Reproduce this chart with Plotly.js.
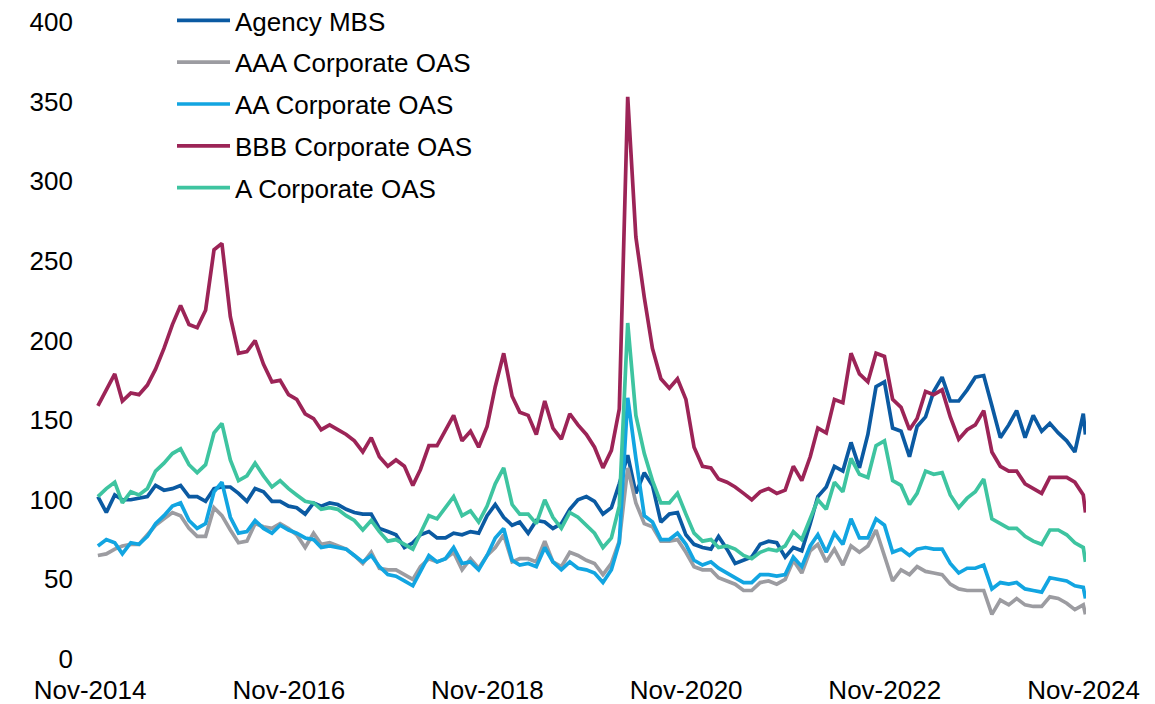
<!DOCTYPE html>
<html>
<head>
<meta charset="utf-8">
<script src="https://cdn.plot.ly/plotly-3.0.1.min.js"></script>
<style>
  html, body { margin: 0; padding: 0; background: #fff; }
  #chart { width: 1155px; height: 704px; }
</style>
</head>
<body>
<div id="chart"></div>
<script>
// Spreads in bp, month-end readings from Nov-2014 to Oct-2024, then the latest reading
const firstYear = 2014;
const firstMonth = 11;
const latestDate = '2024-11-08';

const agencyMBS = [
  102, 92, 103, 100, 100, 101, 102, 109, 106, 107,
  109, 102, 102, 99, 107, 108, 108, 104, 99, 107,
  105, 99, 99, 96, 95, 91, 98, 96, 98, 97,
  94, 92, 91, 91, 82, 80, 78, 70, 73, 78,
  80, 76, 76, 79, 78, 80, 79, 90, 97, 89,
  84, 86, 79, 87, 86, 82, 85, 94, 100, 102,
  99, 91, 95, 110, 128, 104, 117, 109, 86, 91,
  92, 78, 72, 70, 69, 77, 69, 60, 62, 64,
  72, 74, 73, 64, 70, 68, 85, 102, 108, 121,
  118, 136, 120, 141, 171, 174, 145, 143, 127, 146,
  152, 168, 177, 162, 162, 169, 177, 178, 159, 139,
  147, 156, 139, 153, 143, 148, 142, 137, 130, 154,
  141
];

const aaaCorp = [
  65, 66, 69, 71, 72, 72, 78, 84, 88, 92,
  90, 82, 77, 77, 95, 90, 81, 73, 74, 85,
  83, 82, 85, 82, 78, 70, 79, 72, 73, 71,
  69, 65, 60, 67, 57, 56, 56, 53, 50, 58,
  63, 61, 63, 67, 56, 63, 57, 65, 70, 78,
  61, 63, 63, 61, 74, 61, 58, 67, 65, 62,
  60, 53, 60, 74, 120, 98, 85, 83, 74, 74,
  75, 67, 58, 56, 56, 51, 49, 47, 43, 43,
  48, 49, 47, 50, 62, 54, 68, 72, 61, 69,
  59, 71, 67, 71, 81, 65, 49, 56, 53, 58,
  55, 54, 53, 47, 44, 43, 43, 43, 28, 37,
  34, 38, 34, 33, 33, 39, 38, 35, 31, 34,
  28
];

const aaCorp = [
  71, 75, 73, 66, 73, 72, 77, 85, 90, 96,
  98, 87, 82, 85, 105, 111, 89, 79, 80, 87,
  82, 79, 84, 81, 79, 76, 75, 70, 71, 70,
  69, 65, 61, 65, 58, 53, 52, 49, 46, 55,
  65, 61, 63, 70, 60, 61, 56, 65, 76, 82,
  62, 59, 60, 58, 70, 61, 56, 61, 57, 56,
  54, 48, 56, 73, 164, 126, 90, 86, 75, 75,
  79, 72, 62, 59, 61, 57, 54, 51, 48, 48,
  53, 53, 52, 53, 64, 58, 71, 78, 67, 79,
  72, 88, 76, 76, 88, 84, 67, 69, 65, 69,
  70, 69, 69, 60, 54, 57, 57, 59, 44, 48,
  47, 48, 44, 43, 42, 51, 50, 49, 46, 45,
  38
];

const bbbCorp = [
  159, 169, 179, 162, 167, 166, 172, 182, 195, 210,
  222, 210, 208, 219, 257, 261, 215, 192, 193, 200,
  185, 174, 175, 166, 163, 154, 151, 144, 147, 144,
  141, 137, 130, 139, 127, 121, 125, 121, 109, 119,
  134, 134, 144, 153, 137, 143, 133, 146, 171, 192,
  165, 155, 153, 141, 162, 145, 138, 154, 147, 141,
  133, 120, 131, 157, 353, 265, 227, 195, 176, 170,
  176, 163, 133, 121, 120, 113, 111, 108, 104, 100,
  105, 107, 104, 106, 121, 112, 127, 145, 142, 163,
  161, 192, 179, 174, 192, 190, 163, 158, 144, 151,
  168, 166, 169, 152, 138, 144, 147, 156, 130, 121,
  118, 118, 110, 107, 104, 114, 114, 114, 111, 103,
  92
];

const aCorp = [
  102, 107, 111, 98, 105, 103, 107, 118, 123, 129,
  132, 122, 117, 122, 142, 148, 125, 112, 115, 123,
  115, 108, 112, 107, 103, 99, 98, 94, 95, 94,
  90, 87, 81, 87, 80, 74, 75, 72, 69, 79,
  90, 88, 95, 102, 90, 93, 86, 96, 110, 120,
  97, 91, 91, 85, 100, 89, 82, 92, 89, 84,
  79, 70, 76, 96, 211, 153, 129, 112, 98, 98,
  104, 91, 79, 74, 75, 70, 71, 69, 65, 63,
  67, 69, 68, 71, 80, 75, 88, 100, 94, 111,
  105, 126, 116, 114, 134, 137, 112, 109, 97, 104,
  118, 116, 117, 103, 95, 101, 105, 113, 88, 85,
  82, 82, 77, 74, 72, 81, 81, 78, 73, 70,
  61
];

const tickDates = ['2014-11-01', '2016-11-01', '2018-11-01', '2020-11-01', '2022-11-01', '2024-11-01'];
const tickLabels = ['Nov-2014', 'Nov-2016', 'Nov-2018', 'Nov-2020', 'Nov-2022', 'Nov-2024'];

// month-end dates for every reading except the last one, which is mid-month
function buildDates(count) {
    const dates = [];
    for (let i = 0; i < count - 1; i++) {
        const d = new Date(Date.UTC(firstYear, firstMonth - 1 + i + 1, 0));
        dates.push(d.toISOString().slice(0, 10));
    }
    dates.push(latestDate);
    return dates;
}

const dates = buildDates(agencyMBS.length);
const font = { family: 'Arial, "Liberation Sans", sans-serif', size: 26, color: '#000' };

const series = [
    { name: 'Agency MBS', y: agencyMBS, color: '#0B5AA2' },
    { name: 'AAA Corporate OAS', y: aaaCorp, color: '#9C9CA1' },
    { name: 'AA Corporate OAS', y: aaCorp, color: '#12A5E1' },
    { name: 'BBB Corporate OAS', y: bbbCorp, color: '#9C2457' },
    { name: 'A Corporate OAS', y: aCorp, color: '#3EC4A0' }
];

const traces = series.map((s, i) => ({
    x: dates,
    y: s.y,
    name: s.name,
    legendgroup: 'g' + i,
    type: 'scatter',
    mode: 'lines',
    line: { color: s.color, width: 3.7 }
}));

const layout = {
    width: 1155,
    height: 704,
    // keep the plot box fixed, the legend sits partly in the top margin
    margin: { l: 90, r: 69, t: 22, b: 45, autoexpand: false },
    paper_bgcolor: '#fff',
    plot_bgcolor: '#fff',
    font: font,
    showlegend: true,
    legend: {
        x: (172 - 90) / 996, y: (659 + 3) / 637,
        xanchor: 'left', yanchor: 'top',
        bgcolor: 'rgba(0,0,0,0)',
        traceorder: 'grouped',
        tracegroupgap: 5,
        itemwidth: 53,
        font: font
    },
    xaxis: {
        type: 'date',
        range: ['2014-11-01', '2024-11-10'],
        tickvals: tickDates,
        ticktext: tickLabels,
        showgrid: false,
        zeroline: false,
        showline: false,
        ticks: '',
        ticklabelstandoff: 13,
        automargin: false,
        tickfont: font
    },
    yaxis: {
        range: [0, 400],
        dtick: 50,
        showgrid: false,
        zeroline: false,
        showline: false,
        ticks: '',
        ticklabelstandoff: 16,
        automargin: false,
        tickfont: font
    }
};

Plotly.newPlot('chart', traces, layout, { displayModeBar: false, staticPlot: true });
</script>
</body>
</html>
